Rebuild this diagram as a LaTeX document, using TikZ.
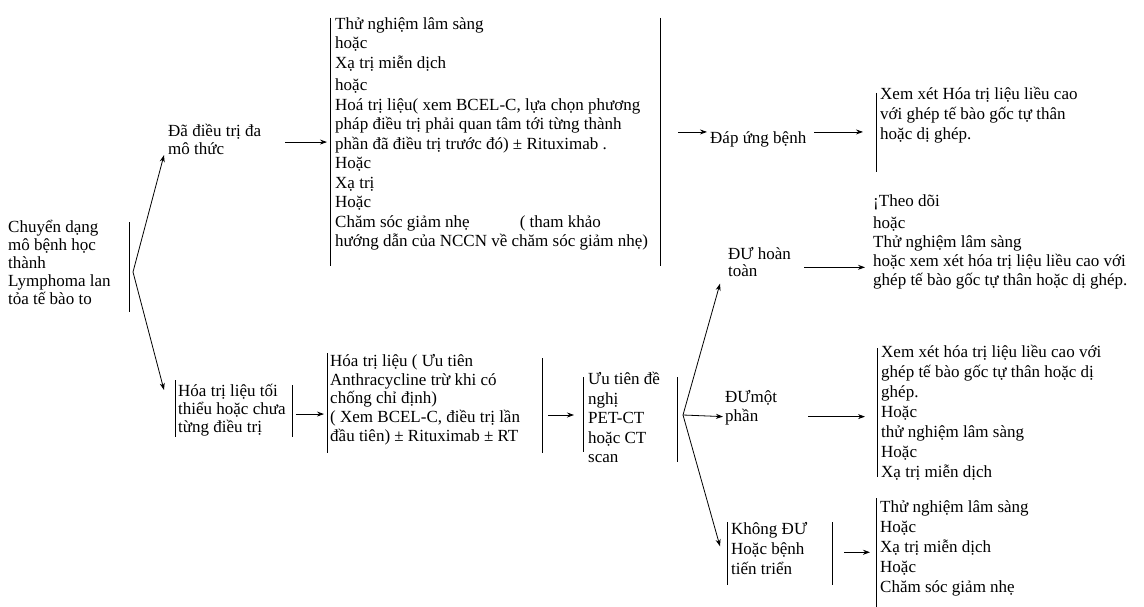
\documentclass[tikz,border=0pt]{standalone}
\usepackage{fontspec}
\setmainfont{Liberation Serif}
\usetikzlibrary{arrows.meta, positioning, calc}

\begin{document}
\begin{tikzpicture}[
    x=1pt, y=-1pt,
    txt/.style={anchor=north west, inner sep=0pt, align=left, font=\fontsize{17}{#1}\selectfont, execute at begin node=\strut},
    txt/.default=19.5,
    bar/.style={line width=0.9pt},
    arrow/.style={-{Stealth[length=7pt, width=5pt]}, line width=0.8pt},
  ]
  \useasboundingbox (0,0) rectangle (1144,607);

  % left column
  \node[txt=18] (root) at (8,220) {Chuyển dạng\\mô bệnh học\\thành\\Lymphoma lan\\tỏa tế bào to};
  \node[txt=18] (treated) at (168,124) {Đã điều trị đa\\mô thức};
  \node[txt=18] (naive) at (178,384) {Hóa trị liệu tối\\thiểu hoặc chưa\\từng điều trị};

  % treatment boxes
  \node[txt] (b1) at (335,17) {Thử nghiệm lâm sàng\\hoặc\\Xạ trị miễn dịch\\[3pt]hoặc\\Hoá trị liệu( xem BCEL-C, lựa chọn phương\\pháp điều trị phải quan tâm tới từng thành\\phần đã điều trị trước đó) ± Rituximab .\\Hoặc\\Xạ trị\\Hoặc\\Chăm sóc giảm nhẹ\hspace{50pt}( tham khảo\\hướng dẫn của NCCN về chăm sóc giảm nhẹ)};
  \node[txt=18.75] (b4) at (330,354) {Hóa trị liệu ( Ưu tiên\\Anthracycline trừ khi có\\chống chỉ định)\\( Xem BCEL-C, điều trị lần\\đầu tiên) ± Rituximab ± RT};
  \node[txt] (pet) at (588,372) {Ưu tiên đề\\nghị\\PET-CT\\hoặc CT\\scan};

  % responses
  \node[txt] (resp) at (710,130) {Đáp ứng bệnh};
  \node[txt=17] (cr) at (728,247) {ĐƯ hoàn\\toàn};
  \node[txt=19] (pr) at (725,390) {ĐƯmột\\phần};
  \node[txt=20] (nr) at (731,522) {Không ĐƯ\\Hoặc bệnh\\tiến triển};

  % right column
  \node[txt=20] (b2) at (880,87) {Xem xét Hóa trị liệu liều cao\\với ghép tế bào gốc tự thân\\hoặc dị ghép.};
  \node[txt=19] (b3) at (873,195) {¡Theo dõi\\[3pt]hoặc\\Thử nghiệm lâm sàng\\hoặc xem xét hóa trị liệu liều cao với\\ghép tế bào gốc tự thân hoặc dị ghép.};
  \node[txt=20] (b5) at (881,345) {Xem xét hóa trị liệu liều cao với\\ghép tế bào gốc tự thân hoặc dị\\ghép.\\Hoặc\\thử nghiệm lâm sàng\\Hoặc\\Xạ trị miễn dịch};
  \node[txt=20] (b6) at (880,500) {Thử nghiệm lâm sàng\\Hoặc\\Xạ trị miễn dịch\\Hoặc\\Chăm sóc giảm nhẹ};

  % box sides
  \draw[bar] (129,222) -- (129,312);
  \draw[bar] (175,380) -- (175,437);
  \draw[bar] (292,385) -- (292,437);
  \draw[bar] (330,18) -- (330,266);
  \draw[bar] (660,18) -- (660,266);
  \draw[bar] (327,353) -- (327,453);
  \draw[bar] (542,358) -- (542,453);
  \draw[bar] (583,377) -- (583,452);
  \draw[bar] (677,377) -- (677,462);
  \draw[bar] (727,522) -- (727,585);
  \draw[bar] (832,522) -- (832,585);
  \draw[bar] (876,93) -- (876,172);
  \draw[bar] (877,348) -- (877,477);
  \draw[bar] (876,498) -- (876,607);

  % forks
  \coordinate (rootfork) at (133,272);
  \coordinate (petfork) at (683,415);

  \draw[arrow] (rootfork) -- ([shift={(-4,-5)}]treated.south west);
  \draw[arrow] (rootfork) -- ([shift={(-14,6)}]naive.north west);
  \draw[arrow] ([xshift=24pt]treated.east) -- ([xshift=-8pt]treated.east -| b1.west);
  \draw[arrow] ([shift={(30,-8)}]resp.west -| b1.east) -- ([shift={(-3,-8)}]resp.west);
  \draw[arrow] ([shift={(8,-8)}]resp.east) -- ([shift={(-17,-8)}]resp.east -| b2.west);
  \draw[arrow] ([shift={(10,3)}]naive.east) -- ([shift={(-6,3)}]naive.east -| b4.west);
  \draw[arrow] ([xshift=-40pt]pet.west |- petfork) -- ([xshift=-14pt]pet.west |- petfork);
  \draw[arrow] (petfork) -- ([shift={(-8,2)}]cr.south west);
  \draw[arrow] (petfork) -- ([shift={(-2,8)}]pr.west);
  \draw[arrow] (petfork) -- ([shift={(-11,-5)}]nr.west);
  \draw[arrow] ([shift={(13,3)}]cr.east) -- ([shift={(-8,3)}]cr.east -| b3.west);
  \draw[arrow] ([shift={(31,8)}]pr.east) -- ([shift={(-16,8)}]pr.east -| b5.west);
  \draw[arrow] ([shift={(37,1)}]nr.east) -- ([shift={(-10,1)}]nr.east -| b6.west);

\end{tikzpicture}
\end{document}
